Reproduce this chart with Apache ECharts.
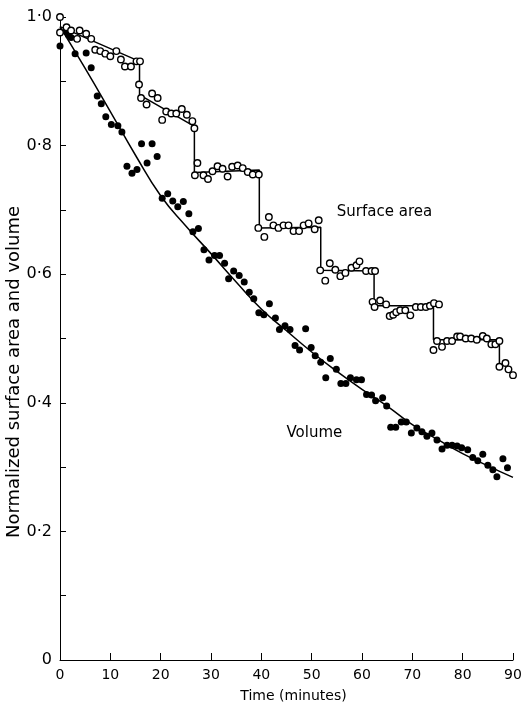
<!DOCTYPE html>
<html>
<head>
<meta charset="utf-8">
<script src="https://cdn.jsdelivr.net/npm/echarts@6/dist/echarts.min.js"></script>
<style>
html,body{margin:0;padding:0;background:#fff;}
#chart{width:525px;height:708px;}
</style>
</head>
<body>
<div id="chart"></div>
<script>
// Surface area measurements (open circles): [time (min), normalized value]
var surfaceArea = [
[0,1.0],[0,0.976],[1.3,0.984],[2.2,0.979],[3.4,0.966],[3.9,0.979],[5.2,0.974],[6.2,0.966],[7.0,0.949],[8.0,0.947],
[9.0,0.943],[10.0,0.939],[11.2,0.947],[12.1,0.934],[12.9,0.923],[14.1,0.923],[15.2,0.931],[15.9,0.931],[15.7,0.895],
[16.1,0.874],[17.2,0.864],[18.3,0.881],[19.4,0.874],[20.3,0.840],[21.1,0.853],[22.1,0.850],[23.1,0.850],[24.2,0.857],
[25.2,0.848],[26.3,0.838],[26.7,0.827],[27.3,0.773],[26.8,0.754],[28.5,0.754],[29.4,0.748],[30.3,0.760],[31.3,0.768],
[32.3,0.764],[33.3,0.752],[34.2,0.767],[35.3,0.769],[36.3,0.765],[37.3,0.759],[38.3,0.755],[39.5,0.755],[39.4,0.672],
[40.6,0.658],[41.5,0.689],[42.4,0.676],[43.4,0.672],[44.4,0.676],[45.4,0.676],[46.4,0.667],[47.5,0.667],[48.4,0.676],
[49.4,0.679],[50.6,0.670],[51.4,0.684],[51.7,0.606],[52.7,0.590],[53.6,0.617],[54.7,0.607],[55.7,0.597],[56.7,0.602],
[57.9,0.610],[58.9,0.614],[59.5,0.620],[60.8,0.605],[61.9,0.605],[62.6,0.605],[62.1,0.557],[62.5,0.549],[63.6,0.559],
[64.8,0.553],[65.5,0.535],[66.2,0.537],[66.8,0.541],[67.6,0.544],[68.6,0.544],[69.6,0.536],[70.7,0.549],[71.7,0.549],
[72.7,0.549],[73.5,0.551],[74.3,0.555],[75.3,0.553],[74.2,0.482],[74.9,0.496],[75.9,0.487],[76.9,0.496],[77.9,0.496],
[78.9,0.503],[79.5,0.503],[80.6,0.500],[81.7,0.500],[82.8,0.498],[84.0,0.504],[84.8,0.500],[85.7,0.491],[86.5,0.491],
[87.3,0.496],[87.3,0.456],[88.5,0.462],[89.1,0.452],[90.0,0.443]
];
// Volume measurements (filled circles)
var volume = [
[0,0.955],[1.2,0.978],[1.7,0.972],[2.2,0.968],[3.0,0.943],[5.2,0.944],[6.2,0.921],[7.4,0.877],[8.2,0.865],[9.1,0.845],
[10.2,0.833],[11.5,0.831],[12.3,0.821],[13.3,0.768],[14.3,0.757],[15.3,0.763],[16.2,0.803],[17.3,0.773],[18.3,0.803],
[19.3,0.783],[20.3,0.718],[21.4,0.725],[22.4,0.714],[23.4,0.705],[24.5,0.713],[25.6,0.694],[26.4,0.666],[27.5,0.671],
[28.6,0.638],[29.6,0.622],[30.7,0.629],[31.7,0.629],[32.7,0.617],[33.5,0.593],[34.5,0.605],[35.6,0.598],[36.6,0.588],
[37.6,0.572],[38.5,0.562],[39.5,0.540],[40.5,0.537],[41.6,0.554],[42.8,0.532],[43.6,0.514],[44.7,0.520],[45.7,0.514],
[46.7,0.489],[47.6,0.482],[48.8,0.515],[49.9,0.486],[50.7,0.473],[51.8,0.463],[52.8,0.439],[53.7,0.469],[54.9,0.452],
[55.8,0.430],[56.8,0.430],[57.7,0.439],[58.9,0.436],[59.9,0.436],[60.9,0.413],[61.9,0.412],[62.7,0.403],[64.1,0.408],
[64.9,0.395],[65.7,0.362],[66.7,0.362],[67.8,0.370],[68.8,0.370],[69.8,0.353],[70.9,0.361],[71.9,0.355],[72.9,0.348],
[73.9,0.353],[74.9,0.342],[75.9,0.328],[76.9,0.334],[77.9,0.334],[78.9,0.333],[79.8,0.330],[81.0,0.327],[82.0,0.315],
[83.0,0.310],[84.0,0.320],[85.0,0.303],[86.0,0.296],[86.8,0.285],[88.0,0.313],[88.9,0.299],[90.1,0.285]
];
// Fitted stepped line for surface area
var surfaceFit = [
[0,0.985],[15.8,0.931],[15.8,0.879],[26.7,0.830],[26.7,0.758],[39.6,0.762],[39.6,0.672],[51.8,0.673],
[51.8,0.606],[62.4,0.605],[62.4,0.551],[74.2,0.551],[74.2,0.498],[87.3,0.498],[87.3,0.456]
];
// Fitted smooth curve for volume
var volumeFit = [
[0,0.985],[5,0.92],[10,0.853],[15,0.785],[20,0.722],[25,0.675],[30,0.632],[35,0.588],[40,0.546],[45,0.512],
[50,0.479],[55,0.449],[60,0.421],[65,0.395],[70,0.366],[75,0.343],[80,0.321],[85,0.302],[90,0.284]
];
var xTickLabels = ['0','10','20','30','40','50','60','70','80','90'];
var yTickLabels = {'0':'0','0.2':'0·2','0.4':'0·4','0.6':'0·6','0.8':'0·8','1':'1·0'};
var annotations = [
  {text:'Surface area', at:[55.0,0.697]},
  {text:'Volume', at:[45.0,0.353]}
];
var yAxisName = 'Normalized surface area and volume';

var FONT = 'DejaVu Sans';
var chart = echarts.init(document.getElementById('chart'), null, {renderer:'canvas'});
var option = {
  animation:false,
  backgroundColor:'#fff',
  grid:{left:60, right:12, top:17, bottom:47, containLabel:false},
  xAxis:{
    type:'value', min:0, max:90, interval:10,
    name:'Time (minutes)', nameLocation:'middle', nameGap:29,
    nameTextStyle:{fontFamily:FONT, fontSize:14, color:'#000', padding:[0,0,0,14]},
    axisLine:{lineStyle:{color:'#000', width:1}},
    axisTick:{inside:true, length:7, lineStyle:{color:'#000'}},
    axisLabel:{fontFamily:FONT, fontSize:14, color:'#000', margin:8,
      formatter:function(v){return xTickLabels[Math.round(v/10)];}},
    splitLine:{show:false}
  },
  yAxis:{
    type:'value', min:0, max:1, interval:0.1,
    axisLine:{lineStyle:{color:'#000', width:1}},
    axisTick:{inside:true, length:6, lineStyle:{color:'#000'}},
    axisLabel:{fontFamily:FONT, fontSize:16, color:'#000', margin:8,
      formatter:function(v){var k=String(Math.round(v*10)/10); return yTickLabels[k]||'';}},
    splitLine:{show:false}
  },
  series:[
    {type:'line', data:volumeFit, smooth:true, showSymbol:false, symbol:'none',
      lineStyle:{color:'#000', width:1.5}, z:2},
    {type:'line', data:surfaceFit, showSymbol:false, symbol:'none',
      lineStyle:{color:'#000', width:1.5}, z:2},
    {type:'scatter', data:volume, symbol:'circle', symbolSize:7,
      itemStyle:{color:'#000', opacity:1}, z:3},
    {type:'scatter', data:surfaceArea, symbol:'circle', symbolSize:6.5,
      itemStyle:{color:'#fff', borderColor:'#000', borderWidth:1.4, opacity:1}, z:4}
  ]
};
chart.setOption(option);
var g = annotations.map(function(a){
  var p = chart.convertToPixel({gridIndex:0}, a.at);
  return {type:'text', x:p[0], y:p[1], style:{text:a.text, fontFamily:FONT, fontSize:15, fill:'#000', textAlign:'left', textVerticalAlign:'middle'}};
});
g.push({type:'text', x:14, y:372, rotation:Math.PI/2,
  style:{text:yAxisName, fontFamily:FONT, fontSize:18, fill:'#000', textAlign:'center', textVerticalAlign:'middle'}});
chart.setOption({graphic:g});
</script>
</body>
</html>
